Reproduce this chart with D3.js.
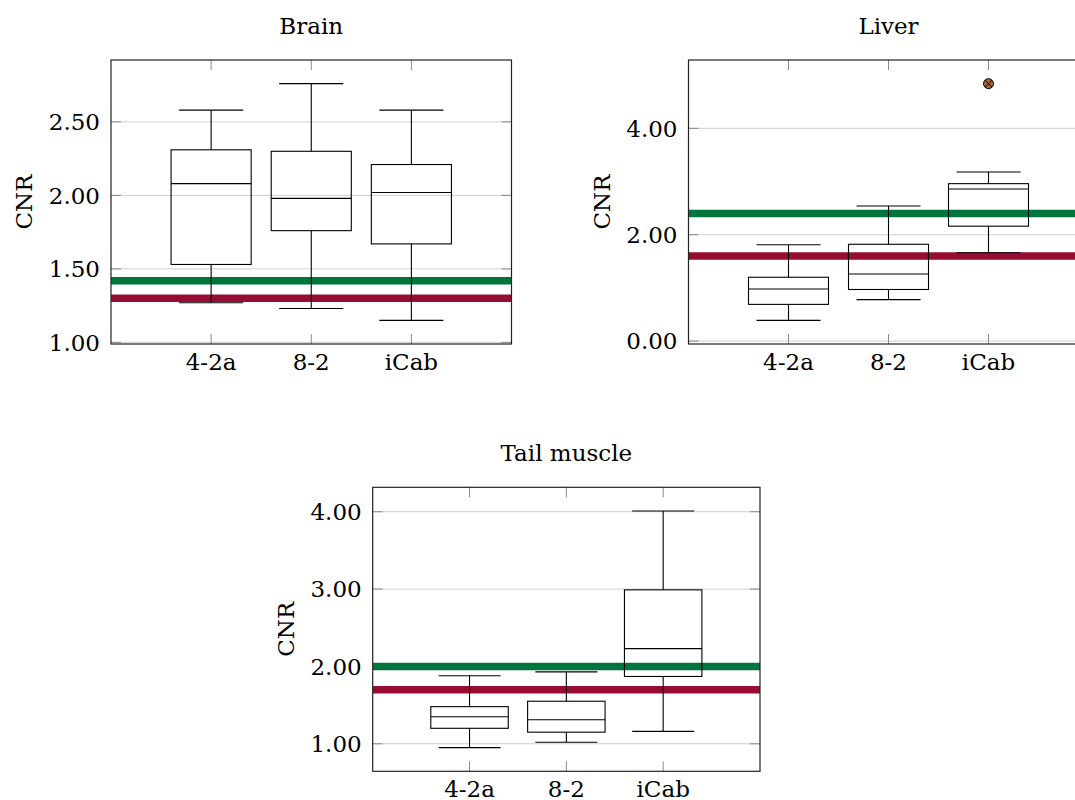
<!DOCTYPE html>
<html>
<head>
<meta charset="utf-8">
<script src="https://cdn.jsdelivr.net/npm/d3@7"></script>
<style>
  body { margin: 0; background: #fff; }
  svg { display: block; }
  text { font-family: "DejaVu Serif", serif; fill: #000; }
</style>
</head>
<body>
<svg id="chart" width="1075" height="800"></svg>
<script>
// categories shared by all three panels
const categories = ["4-2a", "8-2", "iCab"];

// five-number summaries: [lower whisker, lower quartile, median, upper quartile, upper whisker]
const brainBoxes = [
    [1.27, 1.53, 2.08, 2.31, 2.58],
    [1.23, 1.76, 1.98, 2.30, 2.76],
    [1.15, 1.67, 2.02, 2.21, 2.58]
];
const liverBoxes = [
    [0.39, 0.69, 0.98, 1.20, 1.81],
    [0.78, 0.97, 1.26, 1.82, 2.54],
    [1.66, 2.16, 2.86, 2.96, 3.18]
];
const tailBoxes = [
    [0.95, 1.20, 1.35, 1.48, 1.88],
    [1.02, 1.15, 1.31, 1.55, 1.93],
    [1.16, 1.87, 2.23, 2.99, 4.01]
];

// outliers per category
const brainOutliers = [[], [], []];
const liverOutliers = [[], [], [4.84]];
const tailOutliers = [[], [], []];

// reference lines: [green, red]
const brainRefs = [1.42, 1.30];
const liverRefs = [2.40, 1.60];
const tailRefs = [2.00, 1.70];

// y tick values
const brainTicks = [1.0, 1.5, 2.0, 2.5];
const liverTicks = [0, 2, 4];
const tailTicks = [1, 2, 3, 4];

const refColors = ["#00763f", "#960c33"];
const fontSize = 23;

const panels = [
    { title: "Brain", boxes: brainBoxes, outliers: brainOutliers, refs: brainRefs, ticks: brainTicks,
      left: 111, top: 60, width: 400.5, height: 284 },
    { title: "Liver", boxes: liverBoxes, outliers: liverOutliers, refs: liverRefs, ticks: liverTicks,
      left: 688.5, top: 60, width: 400, height: 284 },
    { title: "Tail muscle", boxes: tailBoxes, outliers: tailOutliers, refs: tailRefs, ticks: tailTicks,
      left: 372.7, top: 487.3, width: 387.3, height: 284 }
];

const svg = d3.select("#chart");
svg.append("rect").attr("width", 1075).attr("height", 800).attr("fill", "#fff");

panels.forEach((p, i) => drawPanel(p, i));

function drawPanel(p, idx) {
    const g = svg.append("g").attr("transform", `translate(${p.left},${p.top})`);
    const w = p.width, h = p.height;

    // y range like pgfplots: data range enlarged by 10% each side
    const all = p.boxes.flat().concat(p.outliers.flat());
    const lo = d3.min(all), hi = d3.max(all);
    const pad = (hi - lo) * 0.1;
    const y = d3.scaleLinear().domain([lo - pad, hi + pad]).range([h, 0]);
    const x = d3.scaleLinear().domain([0, 4]).range([0, w]);
    const unit = x(1) - x(0);

    const clipId = "clip" + idx;
    g.append("clipPath").attr("id", clipId)
        .append("rect").attr("width", w).attr("height", h);

    // grid
    g.append("g").selectAll("line").data(p.ticks).join("line")
        .attr("x1", 0).attr("x2", w)
        .attr("y1", d => y(d)).attr("y2", d => y(d))
        .attr("stroke", "#cfcfcf").attr("stroke-width", 1);

    // y ticks (inside, left and right)
    const yt = g.append("g").attr("stroke", "#8a8a8a").attr("stroke-width", 1);
    yt.selectAll(".l").data(p.ticks).join("line").attr("class", "l")
        .attr("x1", 0).attr("x2", 10).attr("y1", d => y(d)).attr("y2", d => y(d));
    yt.selectAll(".r").data(p.ticks).join("line").attr("class", "r")
        .attr("x1", w - 10).attr("x2", w).attr("y1", d => y(d)).attr("y2", d => y(d));

    // x ticks (inside, bottom and top)
    const xt = g.append("g").attr("stroke", "#8a8a8a").attr("stroke-width", 1);
    xt.selectAll(".b").data(categories).join("line").attr("class", "b")
        .attr("x1", (d, i) => x(i + 1)).attr("x2", (d, i) => x(i + 1))
        .attr("y1", h).attr("y2", h - 10);
    xt.selectAll(".t").data(categories).join("line").attr("class", "t")
        .attr("x1", (d, i) => x(i + 1)).attr("x2", (d, i) => x(i + 1))
        .attr("y1", 0).attr("y2", 10);

    // reference lines
    g.append("g").attr("clip-path", `url(#${clipId})`)
        .selectAll("line").data(p.refs).join("line")
        .attr("x1", 0).attr("x2", w)
        .attr("y1", d => y(d)).attr("y2", d => y(d))
        .attr("stroke", (d, i) => refColors[i]).attr("stroke-width", 7.5);

    // boxes
    const boxW = unit * 0.8, capW = unit * 0.64;
    const bg = g.append("g").attr("stroke", "#000").attr("stroke-width", 1.1).attr("fill", "none");
    p.boxes.forEach((b, i) => {
        const cx = x(i + 1);
        const [lw, q1, med, q3, uw] = b;
        bg.append("line").attr("x1", cx).attr("x2", cx).attr("y1", y(q3)).attr("y2", y(uw));
        bg.append("line").attr("x1", cx).attr("x2", cx).attr("y1", y(q1)).attr("y2", y(lw));
        bg.append("line").attr("x1", cx - capW / 2).attr("x2", cx + capW / 2).attr("y1", y(uw)).attr("y2", y(uw));
        bg.append("line").attr("x1", cx - capW / 2).attr("x2", cx + capW / 2).attr("y1", y(lw)).attr("y2", y(lw));
        bg.append("rect").attr("x", cx - boxW / 2).attr("y", y(q3))
            .attr("width", boxW).attr("height", y(q1) - y(q3));
        bg.append("line").attr("x1", cx - boxW / 2).attr("x2", cx + boxW / 2).attr("y1", y(med)).attr("y2", y(med));
    });

    // outliers: circled x
    p.outliers.forEach((vals, i) => {
        vals.forEach(v => {
            const o = g.append("g").attr("transform", `translate(${x(i + 1)},${y(v)})`);
            const r = 5;
            o.append("circle").attr("r", r).attr("fill", "#a8652d").attr("stroke", "#000").attr("stroke-width", 1);
            const k = r * Math.SQRT1_2;
            o.append("path").attr("d", `M${-k},${-k}L${k},${k}M${-k},${k}L${k},${-k}`)
                .attr("stroke", "#000").attr("stroke-width", 1);
        });
    });

    // frame
    g.append("rect").attr("width", w).attr("height", h)
        .attr("fill", "none").attr("stroke", "#222").attr("stroke-width", 1.2);

    // y tick labels
    g.append("g").selectAll("text").data(p.ticks).join("text")
        .attr("x", -11).attr("y", d => y(d)).attr("dy", "0.36em")
        .attr("text-anchor", "end").attr("font-size", fontSize)
        .text(d3.format(".2f"));

    // x tick labels (bottom panel's labels run off the page, as in the source figure)
    g.append("g").selectAll("text").data(categories).join("text")
        .attr("x", (d, i) => x(i + 1)).attr("y", h + 26)
        .attr("text-anchor", "middle").attr("font-size", fontSize)
        .text(d => d);

    // title
    g.append("text").attr("x", w / 2).attr("y", -26)
        .attr("text-anchor", "middle").attr("font-size", fontSize)
        .text(p.title);

    // y label
    g.append("text")
        .attr("transform", `translate(${-79},${h / 2}) rotate(-90)`)
        .attr("text-anchor", "middle").attr("font-size", fontSize)
        .text("CNR");
}
</script>
</body>
</html>
